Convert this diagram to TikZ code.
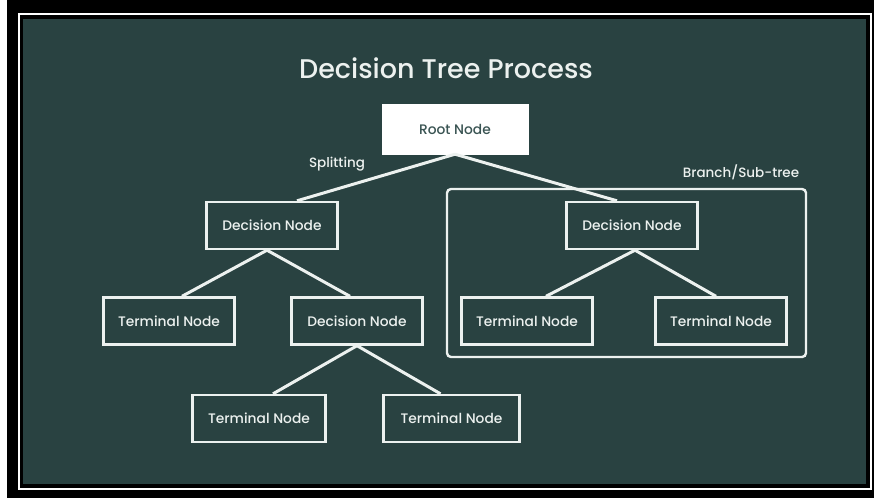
\documentclass[tikz,border=0pt]{standalone}
\usepackage{fontspec}
\setmainfont{Poppins}[UprightFont=* Medium]
\usepackage{xcolor}
\usepackage{tikz}
\usetikzlibrary{positioning,calc}

\definecolor{boardbg}{HTML}{294241}
\definecolor{roottext}{HTML}{3A5453}
\definecolor{softwhite}{HTML}{ECF1EF}

\tikzset{
    treebox/.style={draw=softwhite, line width=2.4pt, text=softwhite, minimum width=131pt, minimum height=47pt, inner sep=0pt, font=\fontsize{13.8}{14}\selectfont},
    rootbox/.style={fill=white, draw=white, text=roottext, minimum width=146pt, minimum height=50pt, inner sep=0pt, font=\fontsize{13.8}{14}\selectfont},
    branch/.style={draw=softwhite, line width=3pt},
    tag/.style={text=softwhite, font=\fontsize{13.5}{14}\selectfont}
}

\begin{document}
\begin{tikzpicture}[x=1pt, y=-1pt]
    % Frame
    \fill [black] (0, 0) rectangle (874, 498);
    \fill [white] (0, 0) rectangle (7, 498);
    \draw [white, line width=2pt] (19, 14) rectangle (871, 489);
    \fill [boardbg] (23, 19) rectangle (866, 484);
    \useasboundingbox (0, 0) rectangle (874, 498);

    % Title
    \node [text=softwhite, font=\fontsize{27}{30}\selectfont] (title) at (446, 68) {Decision Tree Process};

    % Sub-tree
    \draw [softwhite, line width=2.4pt, rounded corners=4pt] (447, 189) rectangle (806, 357);
    \node [tag] (subtag) at (741, 172) {Branch/Sub-tree};

    % Nodes
    \node [rootbox] (root) at (455, 129) {Root Node};
    \node [treebox] (dl) at (272, 225.5) {Decision Node};
    \node [treebox] (dr) at (632, 225.5) {Decision Node};
    \node [treebox] (tl) at (169, 321) {Terminal Node};
    \node [treebox] (dm) at (357, 321) {Decision Node};
    \node [treebox] (ts1) at (527, 321) {Terminal Node};
    \node [treebox] (ts2) at (721, 321) {Terminal Node};
    \node [treebox, minimum width=133pt] (bl) at (259, 418.5) {Terminal Node};
    \node [treebox, minimum width=136pt] (br) at (451.5, 418.5) {Terminal Node};

    % Splitting
    \node [tag] (split) at (337, 164) {Splitting};
    \draw [branch] (root.south) -- ([xshift=25pt]dl.north);
    \draw [branch] (root.south) -- ([xshift=-15pt]dr.north);

    % Left side
    \draw [branch] ([xshift=-5pt]dl.south) -- ([xshift=13pt]tl.north);
    \draw [branch] ([xshift=-5pt]dl.south) -- ([xshift=-7pt]dm.north);
    \draw [branch] (dm.south) -- ([xshift=14pt]bl.north);
    \draw [branch] (dm.south) -- ([xshift=-11pt]br.north);

    % Right side
    \draw [branch] ([xshift=3pt]dr.south) -- ([xshift=19pt]ts1.north);
    \draw [branch] ([xshift=3pt]dr.south) -- ([xshift=-5pt]ts2.north);
\end{tikzpicture}
\end{document}
